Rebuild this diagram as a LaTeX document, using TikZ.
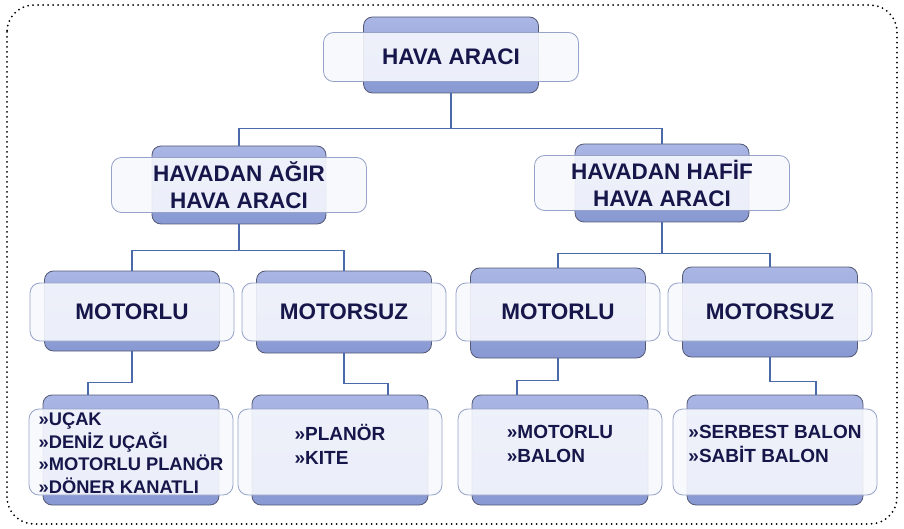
\documentclass[tikz,border=0pt]{standalone}
\usepackage{fontspec}
\setmainfont{Liberation Sans}
\usepackage{xcolor}
\usepackage{tikz}

\definecolor{yazi}{RGB}{22,22,74}
\definecolor{kenar}{RGB}{84,90,118}
\definecolor{arkaust}{RGB}{170,182,228}
\definecolor{arkaalt}{RGB}{136,152,210}
\definecolor{onkenar}{RGB}{150,162,200}
\definecolor{onzemin}{RGB}{246,248,253}
\definecolor{cizgi}{RGB}{74,106,170}

\tikzset{
    arkakutu/.style 2 args={draw=kenar, line width=0.8pt, rounded corners=9pt,
        top color=arkaust, bottom color=arkaalt, inner sep=0pt,
        minimum width=#1, minimum height=#2},
    onkutu/.style 2 args={draw=onkenar, line width=0.8pt, rounded corners=10pt,
        fill=onzemin, fill opacity=0.9, text opacity=1, text=yazi, inner sep=0pt,
        align=center, font=\bfseries\fontsize{22.5}{27}\selectfont,
        minimum width=#1, minimum height=#2},
    liste/.style={align=left, text=yazi, font=\bfseries\fontsize{19}{24}\selectfont},
    hat/.style={draw=cizgi, line width=1.3pt},
}

\begin{document}
\begin{tikzpicture}[x=1pt, y=-1pt]
    \useasboundingbox (0,0) rectangle (904,529);
    \draw[line width=2pt, line cap=round, dash pattern=on 0pt off 5pt, rounded corners=27pt]
        (7,5) rectangle (897,524);

    % Birinci satır
    \node[arkakutu={175pt}{76pt}] (d1b) at (451,55) {};
    \node[onkutu={255pt}{49pt}] (d1) at (451,57) {HAVA ARACI};

    % İkinci satır
    \node[arkakutu={174pt}{78pt}] (d21b) at (239,185) {};
    \node[onkutu={255pt}{55pt}] (d21) at (239,185) {HAVADAN AĞIR\\HAVA ARACI};
    \node[arkakutu={174pt}{78pt}] (d22b) at (662,183) {};
    \node[onkutu={255pt}{55pt}] (d22) at (662,183) {HAVADAN HAFİF\\HAVA ARACI};

    % Üçüncü satır
    \node[arkakutu={175pt}{80pt}] (d31b) at (132,311) {};
    \node[onkutu={204pt}{58pt}] (d31) at (132,312) {MOTORLU};
    \node[arkakutu={175pt}{82pt}] (d32b) at (344,312) {};
    \node[onkutu={204pt}{58pt}] (d32) at (344,312) {MOTORSUZ};
    \node[arkakutu={175pt}{90pt}] (d33b) at (558,313) {};
    \node[onkutu={204pt}{58pt}] (d33) at (558,312) {MOTORLU};
    \node[arkakutu={175pt}{90pt}] (d34b) at (770,312) {};
    \node[onkutu={204pt}{58pt}] (d34) at (770,312) {MOTORSUZ};

    % Dördüncü satır
    \node[arkakutu={176pt}{110pt}] (d41b) at (131,450) {};
    \node[onkutu={204pt}{86pt}] (d41) at (131,452) {};
    \node[arkakutu={176pt}{110pt}] (d42b) at (340,450) {};
    \node[onkutu={204pt}{86pt}] (d42) at (340,452) {};
    \node[arkakutu={176pt}{110pt}] (d43b) at (560,450) {};
    \node[onkutu={204pt}{86pt}] (d43) at (560,452) {};
    \node[arkakutu={176pt}{110pt}] (d44b) at (775,450) {};
    \node[onkutu={204pt}{86pt}] (d44) at (775,452) {};

    % Listeler
    \node[liste, font=\bfseries\fontsize{18.3}{22.5}\selectfont] (d41t) at (131,453)
        {»UÇAK\\»DENİZ UÇAĞI\\»MOTORLU PLANÖR\\»DÖNER KANATLI};
    \node[liste] (d42t) at (340,444) {»PLANÖR\\»KITE};
    \node[liste] (d43t) at (560,444) {»MOTORLU\\»BALON};
    \node[liste] (d44t) at (775,444) {»SERBEST BALON\\»SABİT BALON};

    % Bağlantılar
    \begin{scope}[every path/.style={hat}]
    \draw (d1b.south) -- ++(0,35) -| (d21b.north);
    \draw (d1b.south) -- ++(0,35) -| (d22b.north);

    \draw (d21b.south) -- ++(0,26) -| (d31b.north);
    \draw (d21b.south) -- ++(0,26) -| (d32b.north);
    \draw (d22b.south) -- ++(0,31) -| (d33b.north);
    \draw (d22b.south) -- ++(0,31) -| (d34b.north);

    \draw (d31b.south) -- ++(0,31) -| ([xshift=-43pt]d41b.north);
    \draw (d32b.south) -- ++(0,30) -| ([xshift=48pt]d42b.north);
    \draw (d33b.south) -- ++(0,22) -| ([xshift=-43pt]d43b.north);
    \draw (d34b.south) -- ++(0,24) -| ([xshift=41pt]d44b.north);
    \end{scope}
\end{tikzpicture}
\end{document}
